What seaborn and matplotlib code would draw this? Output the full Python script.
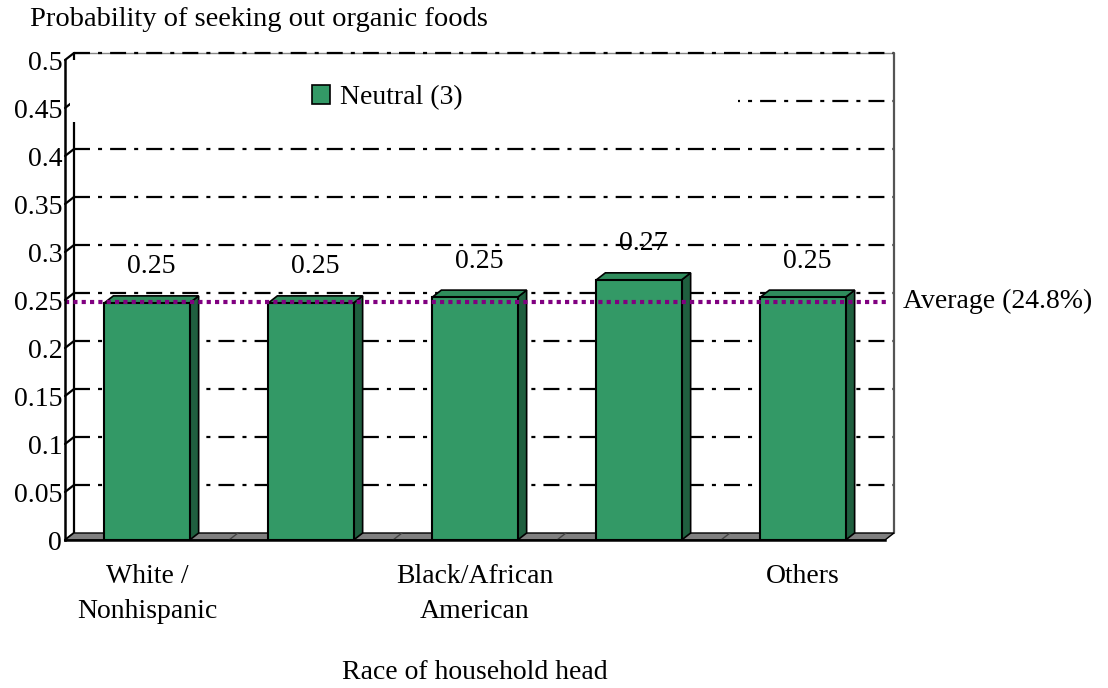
import matplotlib
matplotlib.use("Agg")
import matplotlib.pyplot as plt
import matplotlib.patches as mpatches
import seaborn as sns
import numpy as np

# ---- data ----
categories = ["White / Nonhispanic", "Hispanic", "Black/African American", "Asian", "Others"]
tick_labels = ["White /\nNonhispanic", "", "Black/African\nAmerican", "", "Others"]
values = [0.247, 0.247, 0.253, 0.271, 0.253]
average = 0.248
series_name = "Neutral (3)"
title = "Probability of seeking out organic foods"
xlabel = "Race of household head"
avg_label = "Average (24.8%)"
yticks = [0, 0.05, 0.1, 0.15, 0.2, 0.25, 0.3, 0.35, 0.4, 0.45, 0.5]
ytick_labels = ["0", "0.05", "0.1", "0.15", "0.2", "0.25", "0.3", "0.35", "0.4", "0.45", "0.5"]

GREEN = "#339966"
SIDE = "#1f5f3f"
TOP = "#2f8c5c"
PURPLE = "#800080"
FS = 20

sns.set_style("white")
plt.rcParams["font.family"] = ["Liberation Serif", "DejaVu Serif"]
plt.rcParams["lines.scale_dashes"] = False
plt.rcParams["text.color"] = "black"
plt.rcParams["xtick.color"] = "black"
plt.rcParams["ytick.color"] = "black"
plt.rcParams["axes.labelcolor"] = "black"

W, H, DPI = 1108, 688, 100
fig = plt.figure(figsize=(W / DPI, H / DPI), dpi=DPI)
ax = fig.add_axes([65 / W, (H - 540) / H, 820 / W, 480 / H])

sns.barplot(x=categories, y=values, order=categories, color=GREEN, width=0.52,
            edgecolor="black", linewidth=1.5, ax=ax, saturation=1)
ax.set_xlim(-0.5, 4.5)
ax.set_ylim(0, 0.5)

DX, DY = 9, 7  # depth offset in pixels


def to_back(x, y):
    d = ax.transData.transform((x, y)) + np.array([DX, DY])
    return tuple(ax.transData.inverted().transform(d))


# back wall gridlines
dashdot = (0, (11.5, 5.8, 2.9, 5.8))
for v in yticks[1:]:
    p0 = to_back(-0.5, v)
    p1 = to_back(4.5, v)
    ax.plot([p0[0], p1[0]], [p0[1], p1[1]], color="black", lw=1.6,
            ls=dashdot, zorder=0.5, clip_on=False)
# top edge of back wall
p0, p1 = to_back(-0.5, 0.5), to_back(4.5, 0.5)
ax.plot([p0[0], p1[0]], [p0[1], p1[1]], color="#888888", lw=1.0, zorder=0.4, clip_on=False)
# back-left and back-right vertical edges
for xe, col in [(-0.5, "black"), (4.5, "#555555")]:
    b0, b1 = to_back(xe, 0), to_back(xe, 0.5)
    ax.plot([b0[0], b1[0]], [b0[1], b1[1]], color=col, lw=1.6, zorder=0.6, clip_on=False)

# depth lines from front axis to back wall at each tick
for v in yticks:
    b = to_back(-0.5, v)
    ax.plot([-0.5, b[0]], [v, b[1]], color="black", lw=1.6, zorder=0.7, clip_on=False)

# floor
fl = [(-0.5, 0), (4.5, 0), to_back(4.5, 0), to_back(-0.5, 0)]
ax.add_patch(mpatches.Polygon(fl, closed=True, facecolor="#808080", edgecolor="black",
                              lw=1.0, zorder=1, clip_on=False))
for k in range(4):
    b = to_back(k + 0.5, 0)
    ax.plot([k + 0.5, b[0]], [0, b[1]], color="#444444", lw=1.0, zorder=1.1, clip_on=False)

# 3D faces for bars
bars = list(ax.patches)[:len(values)]
for p in bars:
    p.set_zorder(3)
    x0, w, h = p.get_x(), p.get_width(), p.get_height()
    side = [(x0 + w, 0), (x0 + w, h), to_back(x0 + w, h), to_back(x0 + w, 0)]
    top = [(x0, h), (x0 + w, h), to_back(x0 + w, h), to_back(x0, h)]
    ax.add_patch(mpatches.Polygon(side, closed=True, facecolor=SIDE, edgecolor="black",
                                  lw=1.2, zorder=2.9, clip_on=False))
    ax.add_patch(mpatches.Polygon(top, closed=True, facecolor=TOP, edgecolor="black",
                                  lw=1.2, zorder=2.9, clip_on=False))
    ax.annotate(f"{h:.2f}", xy=(x0 + w / 2, h), xytext=(3, 26), textcoords="offset points",
                ha="center", va="center", fontsize=FS, zorder=6)

# average line
ax.plot([-0.5, 4.53], [average, average], color=PURPLE, lw=3, ls=(0, (3, 3)),
        zorder=4, clip_on=False)
ax.text(4.61, average, avg_label, ha="left", va="center", fontsize=FS)

# legend area (white background hides the wall lines behind it)
ax.add_patch(mpatches.Rectangle((70 / W, 1 - 122 / H), (738 - 70) / W, (122 - 60) / H,
                                transform=fig.transFigure, facecolor="white",
                                edgecolor="none", zorder=1.5, clip_on=False))
leg = ax.legend(handles=[mpatches.Patch(facecolor=GREEN, edgecolor="black", lw=1.2)],
                labels=[series_name], loc="center left", frameon=False, fontsize=FS,
                handlelength=0.65, handleheight=0.65, handletextpad=0.35,
                bbox_to_anchor=(312 / W, 1 - 98 / H), bbox_transform=fig.transFigure,
                borderpad=0, borderaxespad=0)
leg.set_zorder(6)

# axes styling
for s in ["top", "right"]:
    ax.spines[s].set_visible(False)
ax.spines["left"].set_linewidth(1.8)
ax.spines["left"].set_color("black")
ax.spines["bottom"].set_linewidth(1.8)
ax.spines["bottom"].set_color("black")
ax.spines["left"].set_zorder(5)
ax.set_yticks(yticks)
ax.set_yticklabels(ytick_labels)
ax.tick_params(axis="y", direction="out", length=4, width=1.5, pad=-2, labelsize=FS)
ax.set_xticks(range(len(categories)))
ax.set_xticklabels(tick_labels, linespacing=1.55)
ax.tick_params(axis="x", length=0, pad=17, labelsize=FS)
ax.set_xlabel(xlabel, fontsize=FS, labelpad=26)
ax.set_ylabel("")
ax.grid(False)

fig.text(30 / W, 1 - 20 / H, title, ha="left", va="center", fontsize=20.5)

fig.savefig("out.png", dpi=DPI)
